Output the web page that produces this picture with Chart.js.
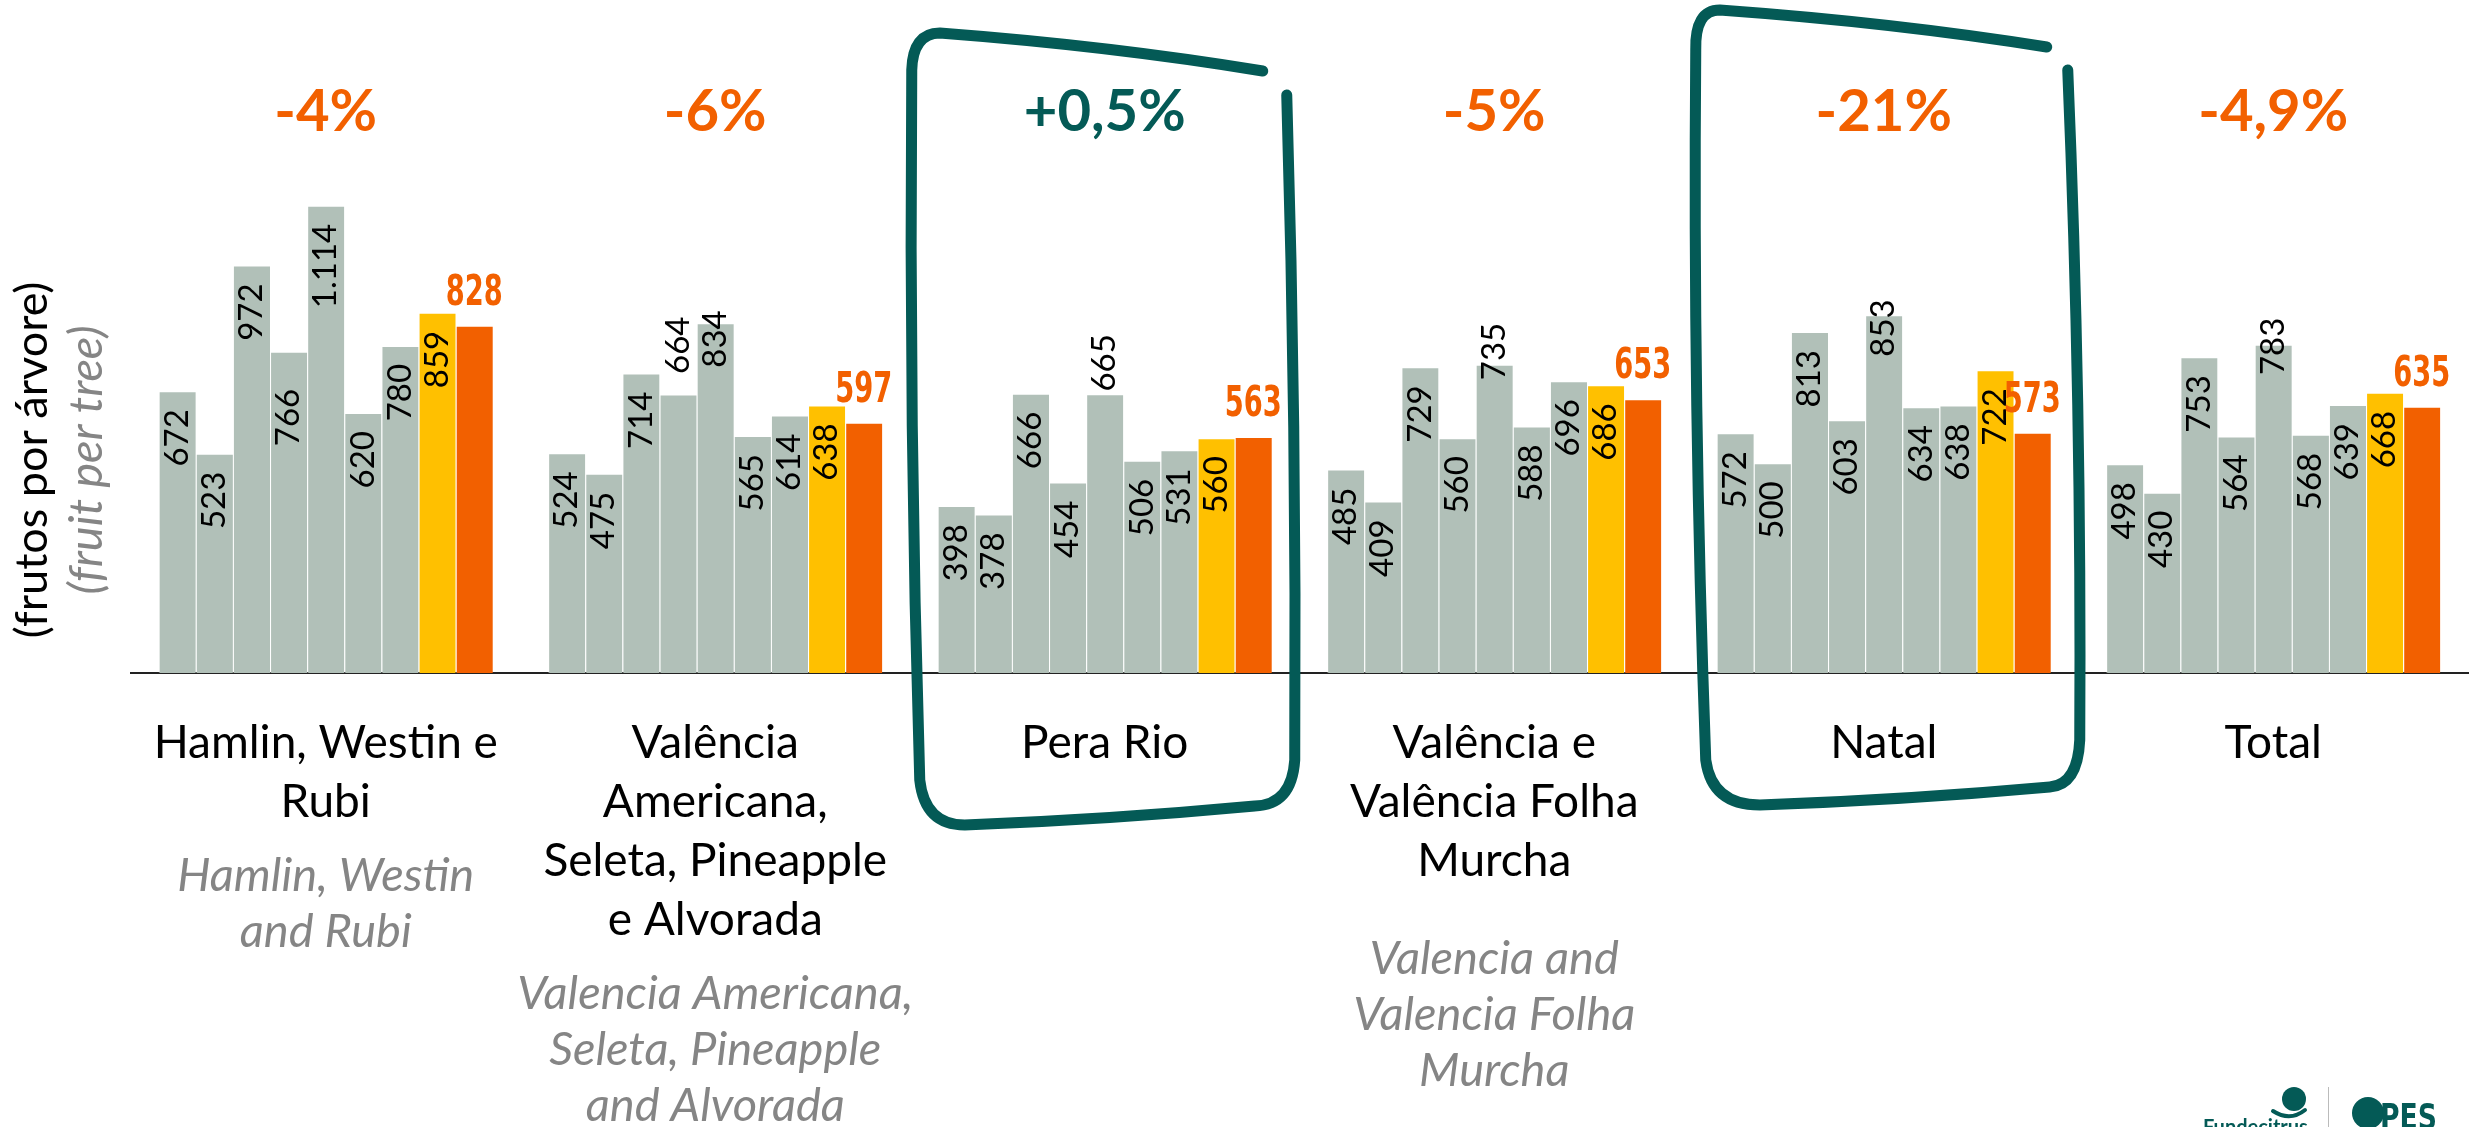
<!DOCTYPE html>
<html>
<head>
<meta charset="utf-8">
<script src="https://cdn.jsdelivr.net/npm/chart.js@4.4.1/dist/chart.umd.min.js"></script>
<style>
html, body { margin: 0; padding: 0; background: #fff; }
#wrap { width: 2471px; height: 1127px; position: relative; }
</style>
</head>
<body>
<div id="wrap"><canvas id="myChart"></canvas></div>
<script>
// categories (portuguese + english subtitle)
var categoriesPt = [
    ['Hamlin, Westin e', 'Rubi'],
    ['Valência', 'Americana,', 'Seleta, Pineapple', 'e Alvorada'],
    ['Pera Rio'],
    ['Valência e', 'Valência Folha', 'Murcha'],
    ['Natal'],
    ['Total']
];
var categoriesEn = [
    ['Hamlin, Westin', 'and Rubi'],
    ['Valencia Americana,', 'Seleta, Pineapple', 'and Alvorada'],
    [],
    ['Valencia and', 'Valencia Folha', 'Murcha'],
    [],
    []
];

// fruit per tree, previous seasons (gray)
var season1 = [672, 524, 398, 485, 572, 498];
var season2 = [523, 475, 378, 409, 500, 430];
var season3 = [972, 714, 666, 729, 813, 753];
var season4 = [766, 664, 454, 560, 603, 564];
var season5 = [1114, 834, 665, 735, 853, 783];
var season6 = [620, 565, 506, 588, 634, 568];
var season7 = [780, 614, 531, 696, 638, 639];
// last season (yellow) and current season (orange)
var lastSeason = [859, 638, 560, 686, 722, 668];
var currentSeason = [828, 597, 563, 653, 573, 635];

var changes = ['-4%', '-6%', '+0,5%', '-5%', '-21%', '-4,9%'];
var highlighted = [2, 4];

var GRAY = '#b1c0b8';
var YELLOW = '#ffc000';
var ORANGE = '#f26000';
var TEAL = '#045a56';
var SUBGRAY = '#858585';
var NARROW = '"Liberation Sans Narrow", "DejaVu Sans Condensed", "DejaVu Sans", sans-serif';

// manual label shifts (px) like in the original slide
var labelNudge = { '0-3': 19, '1-3': -96, '1-4': -31, '2-4': -78, '3-4': -60, '4-4': -34, '5-4': -45 };
var enExtraGap = { 3: 24 };

function fmt(v) {
    return String(v).replace(/\B(?=(\d{3})+(?!\d))/g, '.');
}

// draws text squeezed horizontally to a target width per character
function narrowText(ctx, txt, x, y, perChar) {
    var w = ctx.measureText(txt).width;
    var s = Math.min(1, perChar * txt.length / w);
    ctx.save();
    ctx.translate(x, y);
    ctx.scale(s, 1);
    ctx.fillText(txt, 0, 0);
    ctx.restore();
}

function makeSet(data, color) {
    return {
        data: data,
        backgroundColor: color,
        borderColor: 'rgba(255,255,255,0.35)',
        borderWidth: { left: 1, top: 1, right: 0, bottom: 0 },
        borderSkipped: false,
        barPercentage: 1.0,
        categoryPercentage: 0.858
    };
}

var labelsPlugin = {
    id: 'labels',
    afterDatasetsDraw: function (chart) {
        var ctx = chart.ctx;
        var n = chart.data.datasets.length;
        ctx.save();
        for (var d = 0; d < n; d++) {
            var meta = chart.getDatasetMeta(d);
            for (var i = 0; i < meta.data.length; i++) {
                var bar = meta.data[i];
                var v = chart.data.datasets[d].data[i];
                if (d == n - 1) {
                    ctx.font = 'bold 42px ' + NARROW;
                    ctx.fillStyle = ORANGE;
                    ctx.textAlign = 'center';
                    ctx.textBaseline = 'alphabetic';
                    narrowText(ctx, fmt(v), bar.x, bar.y - 21, 19);
                } else {
                    var shift = labelNudge[i + '-' + d] || 0;
                    ctx.save();
                    ctx.translate(bar.x, bar.y + 18 + shift);
                    ctx.rotate(-Math.PI / 2);
                    ctx.font = '33px Lato, sans-serif';
                    ctx.fillStyle = '#000';
                    ctx.textAlign = 'right';
                    ctx.textBaseline = 'middle';
                    ctx.fillText(fmt(v), 0, 0);
                    ctx.restore();
                }
            }
        }
        ctx.restore();
    }
};

// hand drawn boxes, offsets from category centre and baseline
var boxPera = [[158, -602], [-165, -640], [-192, -640], [-193, -603], [-185, 107], [-180, 152], [-140, 152], [150, 133], [187, 132], [190, 87], [182, -578]];
var boxNatal = [[163, -626], [-164, -663], [-189, -663], [-188, -623], [-178, 87], [-172, 132], [-124, 132], [166, 114], [194, 112], [196, 67], [184, -603]];

function drawBox(ctx, cx, base, p) {
    function P(k) { return [cx + p[k][0], base + p[k][1]]; }
    ctx.beginPath();
    var a = P(0); ctx.moveTo(a[0], a[1]);
    var b = P(1);
    ctx.quadraticCurveTo((a[0] + b[0]) / 2 + 10, (a[1] + b[1]) / 2 - 6, b[0], b[1]);
    var c = P(2), e = P(3);
    ctx.quadraticCurveTo(c[0], c[1], e[0], e[1]);
    var f = P(4);
    ctx.quadraticCurveTo(e[0] - 3, (e[1] + f[1]) / 2, f[0], f[1]);
    var g = P(5), h = P(6);
    ctx.quadraticCurveTo(g[0], g[1], h[0], h[1]);
    var k = P(7);
    ctx.quadraticCurveTo((h[0] + k[0]) / 2, (h[1] + k[1]) / 2 + 4, k[0], k[1]);
    var l = P(8), m = P(9);
    ctx.quadraticCurveTo(l[0], l[1], m[0], m[1]);
    var o = P(10);
    ctx.quadraticCurveTo(m[0] + 2, (m[1] + o[1]) / 2, o[0], o[1]);
    ctx.stroke();
}

var decorPlugin = {
    id: 'decor',
    afterDraw: function (chart) {
        var ctx = chart.ctx;
        var xs = chart.scales.x;
        var ys = chart.scales.y;
        var base = ys.getPixelForValue(0);
        ctx.save();

        // change percentages
        ctx.font = 'bold 58px Lato, sans-serif';
        ctx.textAlign = 'center';
        ctx.textBaseline = 'alphabetic';
        for (var i = 0; i < changes.length; i++) {
            ctx.fillStyle = changes[i].charAt(0) == '+' ? TEAL : ORANGE;
            ctx.fillText(changes[i], xs.getPixelForValue(i), ys.getPixelForValue(1292));
        }

        // category labels
        for (var i = 0; i < categoriesPt.length; i++) {
            var cx = xs.getPixelForValue(i);
            var y = base + 85;
            ctx.font = '46px Lato, sans-serif';
            ctx.fillStyle = '#000';
            for (var j = 0; j < categoriesPt[i].length; j++) {
                ctx.fillText(categoriesPt[i][j], cx, y);
                y += 59;
            }
            y += 15 + (enExtraGap[i] || 0);
            ctx.font = 'italic 47px Lato, sans-serif';
            ctx.fillStyle = SUBGRAY;
            for (var j = 0; j < categoriesEn[i].length; j++) {
                ctx.fillText(categoriesEn[i][j], cx, y);
                y += 56;
            }
        }

        // y axis title
        ctx.save();
        ctx.translate(32, 460);
        ctx.rotate(-Math.PI / 2);
        ctx.textBaseline = 'middle';
        ctx.font = '45px Lato, sans-serif';
        ctx.fillStyle = '#000';
        ctx.fillText('(frutos por árvore)', 0, 0);
        ctx.font = 'italic 47px Lato, sans-serif';
        ctx.fillStyle = SUBGRAY;
        ctx.fillText('(fruit per tree)', 0, 55);
        ctx.restore();

        // highlight boxes
        ctx.strokeStyle = TEAL;
        ctx.lineWidth = 11;
        ctx.lineCap = 'round';
        ctx.lineJoin = 'round';
        drawBox(ctx, xs.getPixelForValue(highlighted[0]), base, boxPera);
        drawBox(ctx, xs.getPixelForValue(highlighted[1]), base, boxNatal);

        // logos (bottom right)
        ctx.fillStyle = TEAL;
        ctx.beginPath();
        ctx.arc(2294, 1099, 12, 0, Math.PI * 2);
        ctx.fill();
        ctx.beginPath();
        ctx.moveTo(2273, 1111);
        ctx.quadraticCurveTo(2290, 1122, 2305, 1110);
        ctx.lineWidth = 4;
        ctx.strokeStyle = TEAL;
        ctx.stroke();
        ctx.font = 'bold 20px Lato, sans-serif';
        ctx.textAlign = 'left';
        ctx.fillText('Fundecitrus', 2203, 1134);
        ctx.fillStyle = '#bbb';
        ctx.fillRect(2328, 1087, 1, 40);
        ctx.fillStyle = TEAL;
        ctx.beginPath();
        ctx.arc(2368, 1113, 16, 0, Math.PI * 2);
        ctx.fill();
        ctx.font = 'bold 36px ' + NARROW;
        narrowText(ctx, 'PES', 2380, 1129, 19);
        ctx.restore();
    }
};

var ctx = document.getElementById('myChart').getContext('2d');
var chart = new Chart(ctx, {
    type: 'bar',
    data: {
        labels: categoriesPt,
        datasets: [
            makeSet(season1, GRAY),
            makeSet(season2, GRAY),
            makeSet(season3, GRAY),
            makeSet(season4, GRAY),
            makeSet(season5, GRAY),
            makeSet(season6, GRAY),
            makeSet(season7, GRAY),
            makeSet(lastSeason, YELLOW),
            makeSet(currentSeason, ORANGE)
        ]
    },
    options: {
        responsive: true,
        maintainAspectRatio: false,
        animation: false,
        layout: { padding: { left: 131, right: 3, top: 23, bottom: 0 } },
        plugins: {
            legend: { display: false },
            tooltip: { enabled: false }
        },
        scales: {
            x: {
                grid: { display: false, drawTicks: false },
                ticks: { display: false },
                border: { display: true, color: '#222', width: 2 },
                afterFit: function (s) { s.height = 454; }
            },
            y: {
                display: false,
                min: 0,
                max: 1550
            }
        }
    },
    plugins: [labelsPlugin, decorPlugin]
});
</script>
</body>
</html>
